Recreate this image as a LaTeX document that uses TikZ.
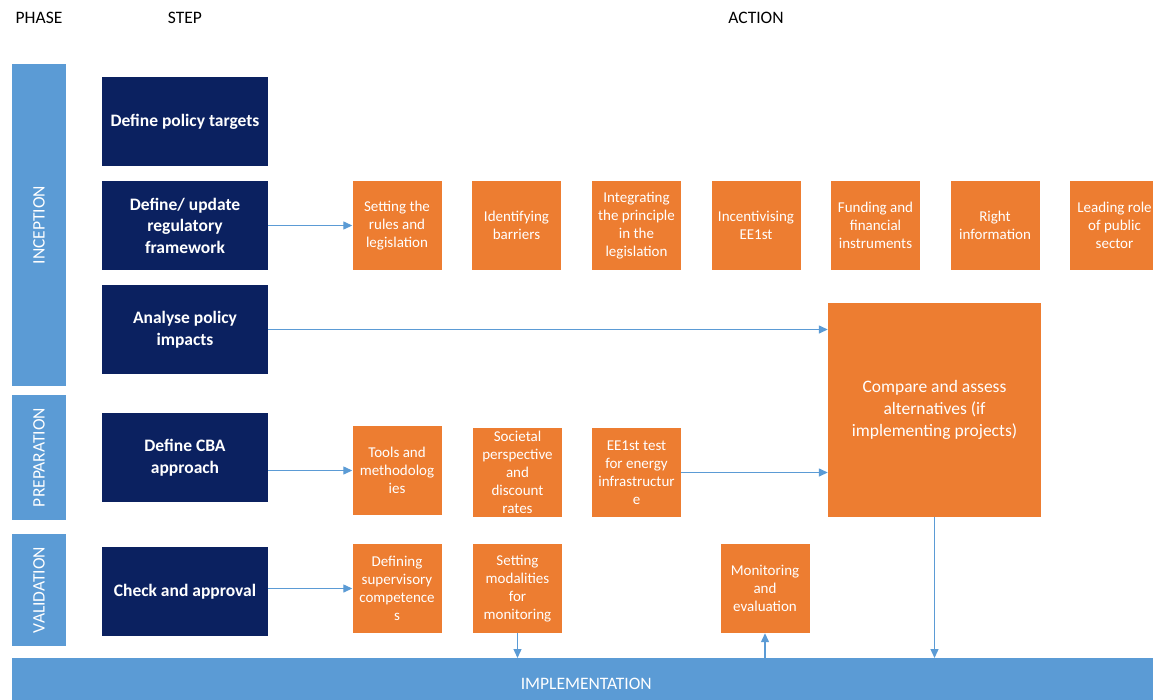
\documentclass[tikz,border=0pt]{standalone}
\usepackage{fontspec}
\setmainfont{Carlito}
\usetikzlibrary{arrows.meta}
\definecolor{navy}{HTML}{0B2160}
\definecolor{actorange}{HTML}{ED7D31}
\definecolor{phaseblue}{HTML}{5B9BD5}
\tikzset{
  stepbox/.style={fill=navy, text=white, font=\bfseries\fontsize{17.5}{21.5}\selectfont,
    align=center, minimum width=166pt, minimum height=89pt, inner sep=0pt},
  actbox/.style={fill=actorange, text=white, font=\fontsize{15}{18}\selectfont,
    align=center, minimum width=89pt, minimum height=89pt, inner sep=0pt},
  phasebar/.style={fill=phaseblue, text=white, font=\fontsize{17.5}{21}\selectfont,
    inner sep=0pt},
  header/.style={text=black, font=\fontsize{17.5}{21}\selectfont},
  arr/.style={draw=phaseblue, line width=1.3pt, -{Triangle[length=9pt,width=8pt]}}
}
\begin{document}
\begin{tikzpicture}[x=1pt,y=-1pt]
\useasboundingbox (0,0) rectangle (1153,699);

% column headers
\node[header] (hphase) at (39,18) {PHASE};
\node[header] (hstep) at (185,18) {STEP};
\node[header] (haction) at (756,18) {ACTION};

% phase bars
\node[phasebar, rotate=90, minimum width=322pt, minimum height=54pt] (inc) at (39,225) {INCEPTION};
\node[phasebar, rotate=90, minimum width=125pt, minimum height=54pt] (prep) at (39,457.5) {PREPARATION};
\node[phasebar, rotate=90, minimum width=112pt, minimum height=54pt] (val) at (39,590) {VALIDATION};
\node[phasebar, anchor=north west, minimum width=1148pt, minimum height=52pt] (impl) at (12,658) {IMPLEMENTATION};

% steps
\node[stepbox] (tgt) at (185,121.5) {Define policy targets};
\node[stepbox] (reg) at (185,225.5) {Define/ update\\regulatory\\framework};
\node[stepbox] (ana) at (185,329.5) {Analyse policy\\impacts};
\node[stepbox] (cba) at (185,457.5) {Define CBA\\approach};
\node[stepbox] (chk) at (185,591.5) {Check and approval};

% inception actions
\node[actbox] (set) at (397,225.5) {Setting the\\rules and\\legislation};
\node[actbox] (bar) at (516.5,225.5) {Identifying\\barriers};
\node[actbox] (intg) at (636.5,225.5) {Integrating\\the principle\\in the\\legislation};
\node[actbox] (inc1) at (756,225.5) {Incentivising\\EE1st};
\node[actbox] (fund) at (875.5,225.5) {Funding and\\financial\\instruments};
\node[actbox] (info) at (995,225.5) {Right\\information};
\node[actbox] (lead) at (1114.5,225.5) {Leading role\\of public\\sector};

% comparison of alternatives
\node[actbox, minimum width=213pt, minimum height=214pt, font=\fontsize{17.5}{21.7}\selectfont]
  (cmp) at (934.5,410) {Compare and assess\\alternatives (if\\implementing projects)};

% preparation actions
\node[actbox] (tools) at (397,470.5) {Tools and\\methodolog\\ies};
\node[actbox] (soc) at (517.5,472.5) {Societal\\perspective\\and\\discount\\rates};
\node[actbox] (ee) at (636.5,472.5) {EE1st test\\for energy\\infrastructur\\e};

% validation actions
\node[actbox] (def) at (397,588.5) {Defining\\supervisory\\competence\\s};
\node[actbox] (mod) at (517.5,588.5) {Setting\\modalities\\for\\monitoring};
\node[actbox] (mon) at (765,588.5) {Monitoring\\and\\evaluation};

% connectors
\draw[arr] (reg.east) -- (set.west);
\draw[arr] (ana.east) -- (ana.east -| cmp.west);
\draw[arr] (cba.east |- tools.west) -- (tools.west);
\draw[arr] (ee.east) -- (ee.east -| cmp.west);
\draw[arr] (chk.east |- def.west) -- (def.west);
\draw[arr] (mod.south) -- (mod.south |- impl.north);
\draw[arr] (mon.south |- impl.north) -- (mon.south);
\draw[arr] (cmp.south) -- (cmp.south |- impl.north);
\end{tikzpicture}
\end{document}
